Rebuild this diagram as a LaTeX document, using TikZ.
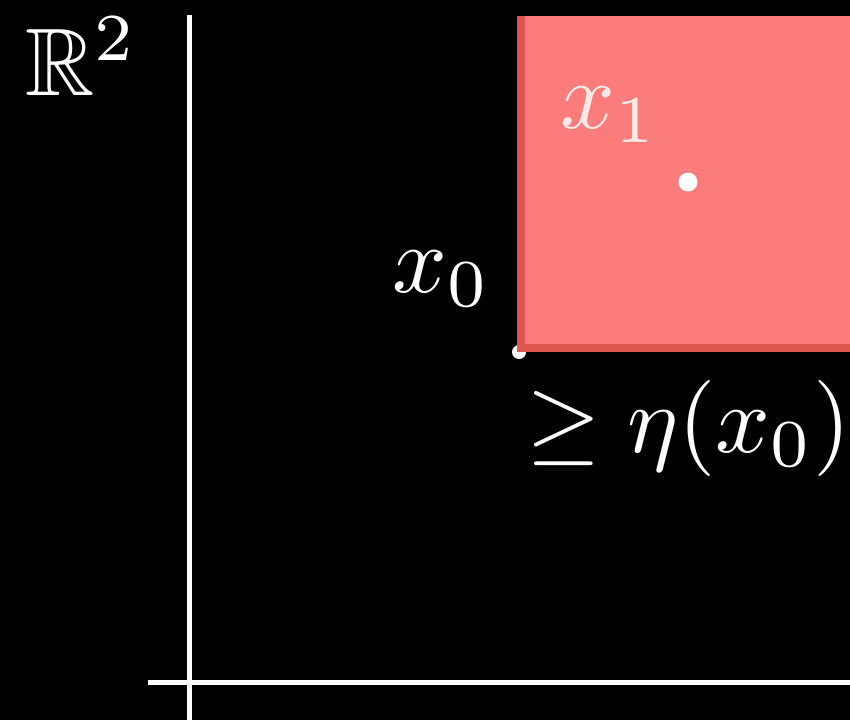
\documentclass[tikz,border=0pt]{standalone}
\usepackage{graphicx}
\usepackage{amssymb}
\definecolor{sq}{RGB}{252,124,124}
\definecolor{sqedge}{RGB}{222,86,80}
\definecolor{lbl}{RGB}{255,232,232}
\newcommand{\hugemath}[1]{\scalebox{9.6}{$#1$}}
\begin{document}
\begin{tikzpicture}[x=1pt,y=-1pt,
  axis/.style={draw=white,line width=5pt},
  mlabel/.style={inner sep=0pt,anchor=base west,text=white},
  dot/.style={circle,fill=white,inner sep=0pt,minimum size=#1}]
\fill[black] (0,0) rectangle (850,720);
\useasboundingbox (0,0) rectangle (850,720);
\coordinate (vtop) at (189,15);
\coordinate (vbot) at (189,720);
\coordinate (hl) at (148,682);
\coordinate (hr) at (850,682);
\draw[axis] (vtop) -- (vbot);
\draw[axis] (hl) -- (hr);
\node[dot=14pt] (x0dot) at (519,352) {};
\fill[sq] (517,16) rectangle (852,352);
\coordinate (sqtl) at (521,16);
\coordinate (sqbl) at (521,348);
\coordinate (sqbr) at (852,348);
\draw[sqedge,line width=8pt] (sqtl) -- (sqbl) -- (sqbr);
\node[dot=19pt] (x1dot) at (688,182) {};
\node[mlabel] (r2) at (25,95) {\hugemath{\mathbb{R}^2}};
\node[mlabel] (x0lab) at (392,292) {\hugemath{x_0}};
\node[mlabel,text=lbl] (x1lab) at (560,128) {\hugemath{x_1}};
\node[mlabel] (eta) at (526,452) {\hugemath{\geq \eta(x_0)}};
\end{tikzpicture}
\end{document}
